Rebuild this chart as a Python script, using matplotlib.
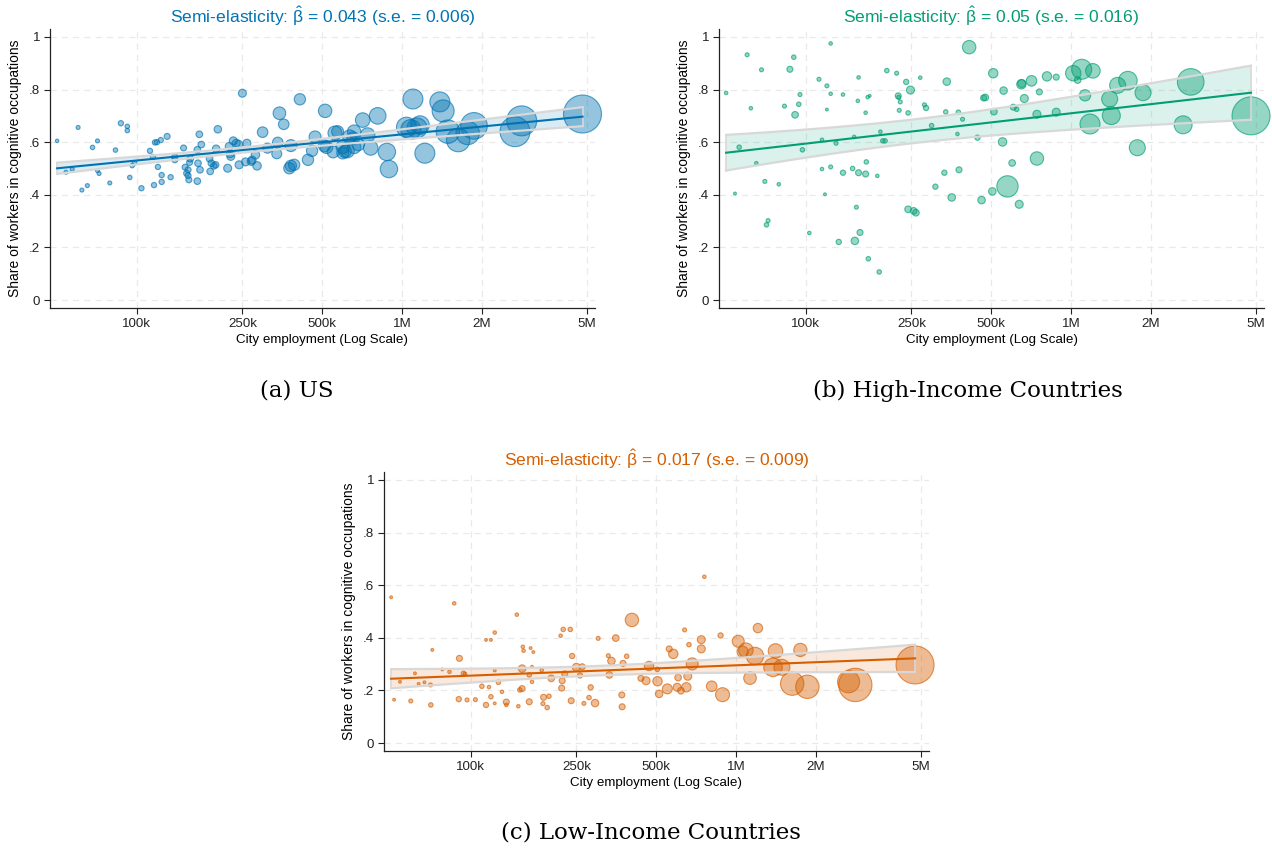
import numpy as np
import matplotlib.pyplot as plt
from matplotlib.colors import to_rgba

plt.rcParams['font.family'] = ['Liberation Sans', 'DejaVu Sans']
plt.rcParams['mathtext.fontset'] = 'custom'
plt.rcParams['mathtext.rm'] = 'Liberation Sans'
plt.rcParams['mathtext.it'] = 'Liberation Sans:italic'

# ---- data: city employment (thousands), share in cognitive occupations, city weight ----
us_emp = [50, 60, 71, 68, 87, 92, 92, 83, 54, 57, 71, 72, 65, 62, 79, 94, 96, 98,
          112, 115, 117, 119, 123, 130, 120, 124, 124, 134, 104, 116, 139, 139, 150,
          172, 175, 169, 152, 156, 154, 156, 157, 169, 173, 159, 158, 170, 188, 191,
          195, 198, 189, 202, 199, 220, 225, 226, 223, 231, 237, 242, 243, 250, 257,
          260, 270, 272, 280, 284, 298, 311, 337, 340, 345, 358, 376, 381, 392, 381,
          412, 442, 458, 470, 513, 510, 519, 559, 572, 550, 598, 610, 635, 660, 622,
          598, 655, 660, 685, 711, 742, 762, 810, 877, 893, 1040, 1080, 1100, 1140,
          1170, 1220, 1390, 1430, 1490, 1630, 1770, 1870, 2670, 2830, 4800]
us_share = [0.605, 0.656, 0.605, 0.580, 0.672, 0.660, 0.644, 0.570, 0.486, 0.497, 0.492,
            0.481, 0.435, 0.418, 0.445, 0.466, 0.511, 0.521, 0.567, 0.544, 0.599, 0.600,
            0.608, 0.622, 0.506, 0.475, 0.449, 0.467, 0.425, 0.437, 0.544, 0.533, 0.578,
            0.630, 0.591, 0.571, 0.505, 0.495, 0.482, 0.473, 0.457, 0.452, 0.495, 0.537,
            0.523, 0.520, 0.537, 0.520, 0.510, 0.514, 0.489, 0.649, 0.575, 0.501, 0.556,
            0.546, 0.584, 0.605, 0.596, 0.592, 0.514, 0.786, 0.525, 0.596, 0.527, 0.532,
            0.552, 0.510, 0.638, 0.577, 0.556, 0.599, 0.710, 0.668, 0.501, 0.510, 0.514,
            0.587, 0.763, 0.533, 0.567, 0.620, 0.719, 0.586, 0.581, 0.635, 0.640, 0.563,
            0.582, 0.565, 0.620, 0.640, 0.567, 0.559, 0.615, 0.582, 0.590, 0.684, 0.627,
            0.578, 0.700, 0.563, 0.498, 0.657, 0.648, 0.764, 0.654, 0.665, 0.558, 0.753,
            0.719, 0.640, 0.608, 0.635, 0.662, 0.640, 0.681, 0.707]
us_w = [3, 4, 4, 5, 7, 5, 5, 5, 4, 4, 4, 4, 4, 4, 4, 5, 5, 5, 7, 7, 7, 7, 7, 9, 7, 7, 7,
        7, 7, 7, 9, 9, 9, 11, 11, 11, 9, 9, 9, 9, 9, 11, 11, 11, 9, 11, 11, 11, 11, 11,
        11, 14, 14, 16, 16, 16, 16, 16, 16, 16, 16, 16, 16, 16, 16, 16, 18, 18, 28, 25,
        25, 28, 40, 28, 32, 32, 32, 36, 32, 32, 32, 36, 45, 36, 40, 49, 36, 36, 45, 40,
        49, 45, 49, 36, 40, 45, 36, 53, 53, 53, 69, 76, 76, 100, 100, 100, 100, 86, 100,
        100, 121, 137, 137, 137, 177, 225, 225, 361]

hi_emp = [50, 60, 68, 62, 56, 54, 70, 79, 72, 71, 65, 87, 90, 95, 94, 83, 91, 97, 103,
          124, 112, 120, 124, 120, 115, 130, 138, 158, 157, 171, 174, 168, 152, 191, 195,
          199, 115, 124, 118, 138, 150, 158, 168, 169, 186, 155, 160, 153, 133, 172, 189,
          202, 220, 239, 248, 270, 223, 224, 227, 225, 243, 280, 284, 298, 337, 376, 390,
          373, 340, 413, 475, 444, 333, 378, 308, 355, 460, 243, 255, 260, 509, 468, 557,
          512, 606, 624, 552, 600, 744, 505, 576, 638, 650, 652, 710, 667, 760, 812, 880,
          744, 880, 1020, 1098, 1210, 1060, 1130, 1180, 1400, 1420, 1500, 1640, 1870,
          1780, 2650, 2830, 4780]
hi_share = [0.787, 0.932, 0.875, 0.729, 0.581, 0.405, 0.451, 0.440, 0.302, 0.286, 0.520,
            0.877, 0.923, 0.781, 0.744, 0.737, 0.704, 0.571, 0.255, 0.975, 0.839, 0.814,
            0.784, 0.724, 0.609, 0.596, 0.781, 0.846, 0.757, 0.771, 0.776, 0.712, 0.620,
            0.640, 0.605, 0.605, 0.498, 0.506, 0.402, 0.484, 0.500, 0.484, 0.479, 0.525,
            0.472, 0.353, 0.257, 0.225, 0.221, 0.157, 0.107, 0.872, 0.862, 0.829, 0.798,
            0.845, 0.776, 0.770, 0.753, 0.721, 0.711, 0.742, 0.730, 0.663, 0.715, 0.714,
            0.687, 0.631, 0.830, 0.961, 0.770, 0.617, 0.484, 0.495, 0.431, 0.390, 0.380,
            0.345, 0.339, 0.332, 0.862, 0.768, 0.796, 0.716, 0.733, 0.725, 0.601, 0.521,
            0.538, 0.413, 0.432, 0.364, 0.820, 0.823, 0.833, 0.766, 0.791, 0.850, 0.847,
            0.706, 0.714, 0.862, 0.877, 0.871, 0.836, 0.778, 0.669, 0.764, 0.701, 0.816,
            0.834, 0.788, 0.579, 0.666, 0.829, 0.700]
hi_w = [3, 4, 4, 3, 5, 2, 4, 3, 4, 5, 3, 9, 5, 4, 5, 4, 11, 5, 3, 3, 4, 4, 3, 2, 3, 4, 3,
        3, 3, 3, 2, 3, 3, 3, 5, 5, 3, 4, 2, 7, 5, 9, 9, 5, 3, 4, 9, 14, 7, 5, 5, 5, 4, 7,
        16, 3, 9, 4, 4, 4, 5, 4, 7, 5, 5, 5, 4, 3, 14, 45, 11, 7, 7, 9, 7, 14, 14, 11, 11,
        11, 22, 9, 14, 11, 9, 5, 18, 11, 45, 14, 114, 16, 22, 16, 28, 16, 9, 22, 9, 16,
        16, 59, 100, 53, 11, 32, 100, 64, 81, 64, 86, 64, 64, 81, 177, 361]

lo_emp = [50, 86.5, 149, 71.5, 90.5, 51.3, 59.3, 70.6, 54, 61.5, 63.5, 66.8, 70.4, 78, 83,
          93.7, 95, 90, 96.7, 104, 123, 110, 117, 127, 119, 114, 123, 131, 136, 136, 151,
          123, 114, 119, 156, 157, 158, 168, 172, 170, 166, 170, 153, 156, 166, 185, 201,
          188, 197, 187, 194, 218, 223, 237, 226, 221, 220, 239, 241, 250, 263, 258, 283,
          279, 267, 294, 302, 352, 330, 339, 375, 387, 333, 371, 372, 405, 438, 458, 470,
          505, 506, 513, 551, 605, 658, 600, 620, 650, 560, 580, 640, 665, 740, 740, 684,
          760, 810, 875, 890, 1020, 1060, 1090, 1180, 1130, 1210, 1410, 1380, 1490, 1630,
          1860, 1750, 2660, 2820, 4740]
lo_share = [0.554, 0.531, 0.488, 0.354, 0.322, 0.165, 0.160, 0.145, 0.233, 0.265, 0.225,
            0.231, 0.221, 0.280, 0.271, 0.265, 0.263, 0.167, 0.164, 0.165, 0.276, 0.216,
            0.213, 0.231, 0.176, 0.145, 0.151, 0.195, 0.156, 0.145, 0.140, 0.420, 0.392,
            0.392, 0.283, 0.366, 0.351, 0.361, 0.346, 0.290, 0.259, 0.233, 0.202, 0.207,
            0.157, 0.277, 0.246, 0.174, 0.178, 0.150, 0.135, 0.408, 0.432, 0.432, 0.263,
            0.237, 0.209, 0.161, 0.331, 0.288, 0.290, 0.257, 0.212, 0.173, 0.151, 0.152,
            0.398, 0.399, 0.332, 0.312, 0.303, 0.330, 0.259, 0.183, 0.138, 0.468, 0.246,
            0.237, 0.293, 0.280, 0.235, 0.187, 0.206, 0.249, 0.254, 0.212, 0.199, 0.212,
            0.358, 0.339, 0.430, 0.374, 0.393, 0.358, 0.301, 0.632, 0.216, 0.409, 0.184,
            0.387, 0.347, 0.353, 0.331, 0.247, 0.437, 0.350, 0.288, 0.288, 0.226, 0.214,
            0.354, 0.233, 0.221, 0.297]
lo_w = [2, 3, 3, 2, 9, 2, 4, 5, 2, 2, 2, 2, 4, 2, 3, 5, 3, 7, 4, 4, 2, 5, 3, 5, 5, 7, 2,
        3, 9, 3, 3, 3, 2, 2, 14, 3, 3, 2, 2, 2, 5, 3, 5, 9, 9, 3, 11, 9, 5, 4, 5, 3, 5, 5,
        9, 9, 9, 9, 7, 16, 9, 7, 7, 5, 4, 14, 4, 11, 4, 14, 9, 5, 11, 9, 9, 45, 9, 16, 22,
        5, 22, 14, 25, 11, 16, 16, 11, 22, 9, 22, 4, 5, 16, 16, 36, 3, 28, 7, 49, 36, 32,
        53, 76, 40, 22, 53, 86, 64, 137, 137, 44, 121, 278, 361]

# fitted line: slope, s.e., fitted value at the largest city; CI half-width at its narrowest
us_fit = dict(beta=0.043, se=0.006, y_top=0.697, mid=250, mid_half=0.010)
hi_fit = dict(beta=0.05, se=0.016, y_top=0.788, mid=250, mid_half=0.045)
lo_fit = dict(beta=0.017, se=0.009, y_top=0.322, mid=300, mid_half=0.018)

xticks = [100, 250, 500, 1000, 2000, 5000]
xticklabels = ['100k', '250k', '500k', '1M', '2M', '5M']
yticks = [0, 0.2, 0.4, 0.6, 0.8, 1]
yticklabels = ['0', '.2', '.4', '.6', '.8', '1']

blue, green, orange = '#0173B2', '#029E73', '#D55E00'


def panel(ax, emp, share, w, fit, color):
    emp = np.asarray(emp, float)
    ax.scatter(emp, share, s=2.07 * np.asarray(w), facecolor=to_rgba(color, 0.42),
               edgecolor=to_rgba(color, 0.65), linewidth=0.8, zorder=2, clip_on=False)
    xs = np.geomspace(emp.min(), emp.max(), 200)
    yhat = fit['y_top'] + fit['beta'] * np.log(xs / emp.max())
    half = np.sqrt(fit['mid_half'] ** 2 +
                   (1.96 * fit['se'] * np.log(xs / fit['mid'])) ** 2)
    ax.fill_between(xs, yhat - half, yhat + half, facecolor=color, alpha=0.14,
                    edgecolor='none', zorder=3)
    band_edge = dict(color='#d8d8d8', zorder=3)
    ax.plot(xs, yhat + half, lw=1.6, **band_edge)
    ax.plot(xs, yhat - half, lw=1.6, **band_edge)
    ax.plot([xs[-1], xs[-1]], [yhat[-1] - half[-1], yhat[-1] + half[-1]], lw=1.2, **band_edge)
    ax.plot([xs[0], xs[0]], [yhat[0] - half[0], yhat[0] + half[0]], lw=1.2, **band_edge)
    ax.plot(xs, yhat, color=color, lw=1.5, zorder=4)

    ax.set_xscale('log')
    ax.set_xlim(47, 5350)
    ax.set_ylim(-0.03, 1.03)
    ax.set_xticks(xticks)
    ax.set_xticklabels(xticklabels)
    ax.minorticks_off()
    ax.set_yticks(yticks)
    ax.set_yticklabels(yticklabels)
    ax.grid(True, color='#e9e9e9', linestyle=(0, (5, 4)), linewidth=0.9)
    ax.set_axisbelow(True)
    for side in ['top', 'right']:
        ax.spines[side].set_visible(False)
    for side in ['left', 'bottom']:
        ax.spines[side].set_color('#222222')
        ax.spines[side].set_linewidth(0.9)
    ax.tick_params(direction='out', length=4, width=0.8, colors='#222222',
                   labelsize=9.6, pad=3)
    ax.set_xlabel('City employment (Log Scale)', fontsize=9.6, labelpad=3)
    ax.set_ylabel('Share of workers in cognitive occupations', fontsize=10, labelpad=5)
    ax.set_title(r'Semi-elasticity: $\hat{\mathrm{\beta}}$ = %g (s.e. = %g)'
                 % (fit['beta'], fit['se']), color=color, fontsize=12.6, pad=4)


W, H = 1272, 851
fig = plt.figure(figsize=(W / 100, H / 100), dpi=100)
ax_a = fig.add_axes([50 / W, 1 - 308 / H, 545 / W, 279 / H])
ax_b = fig.add_axes([719 / W, 1 - 308 / H, 545 / W, 279 / H])
ax_c = fig.add_axes([384 / W, 1 - 751 / H, 545 / W, 279 / H])

panel(ax_a, us_emp, us_share, us_w, us_fit, blue)
panel(ax_b, hi_emp, hi_share, hi_w, hi_fit, green)
panel(ax_c, lo_emp, lo_share, lo_w, lo_fit, orange)

cap = dict(ha='center', va='center', family='DejaVu Serif', fontsize=16.5)
fig.text(297 / W, 1 - 391 / H, '(a) US', **cap)
fig.text(968 / W, 1 - 391 / H, '(b) High-Income Countries', **cap)
fig.text(651 / W, 1 - 832 / H, '(c) Low-Income Countries', **cap)

fig.savefig('out.png', dpi=100)
